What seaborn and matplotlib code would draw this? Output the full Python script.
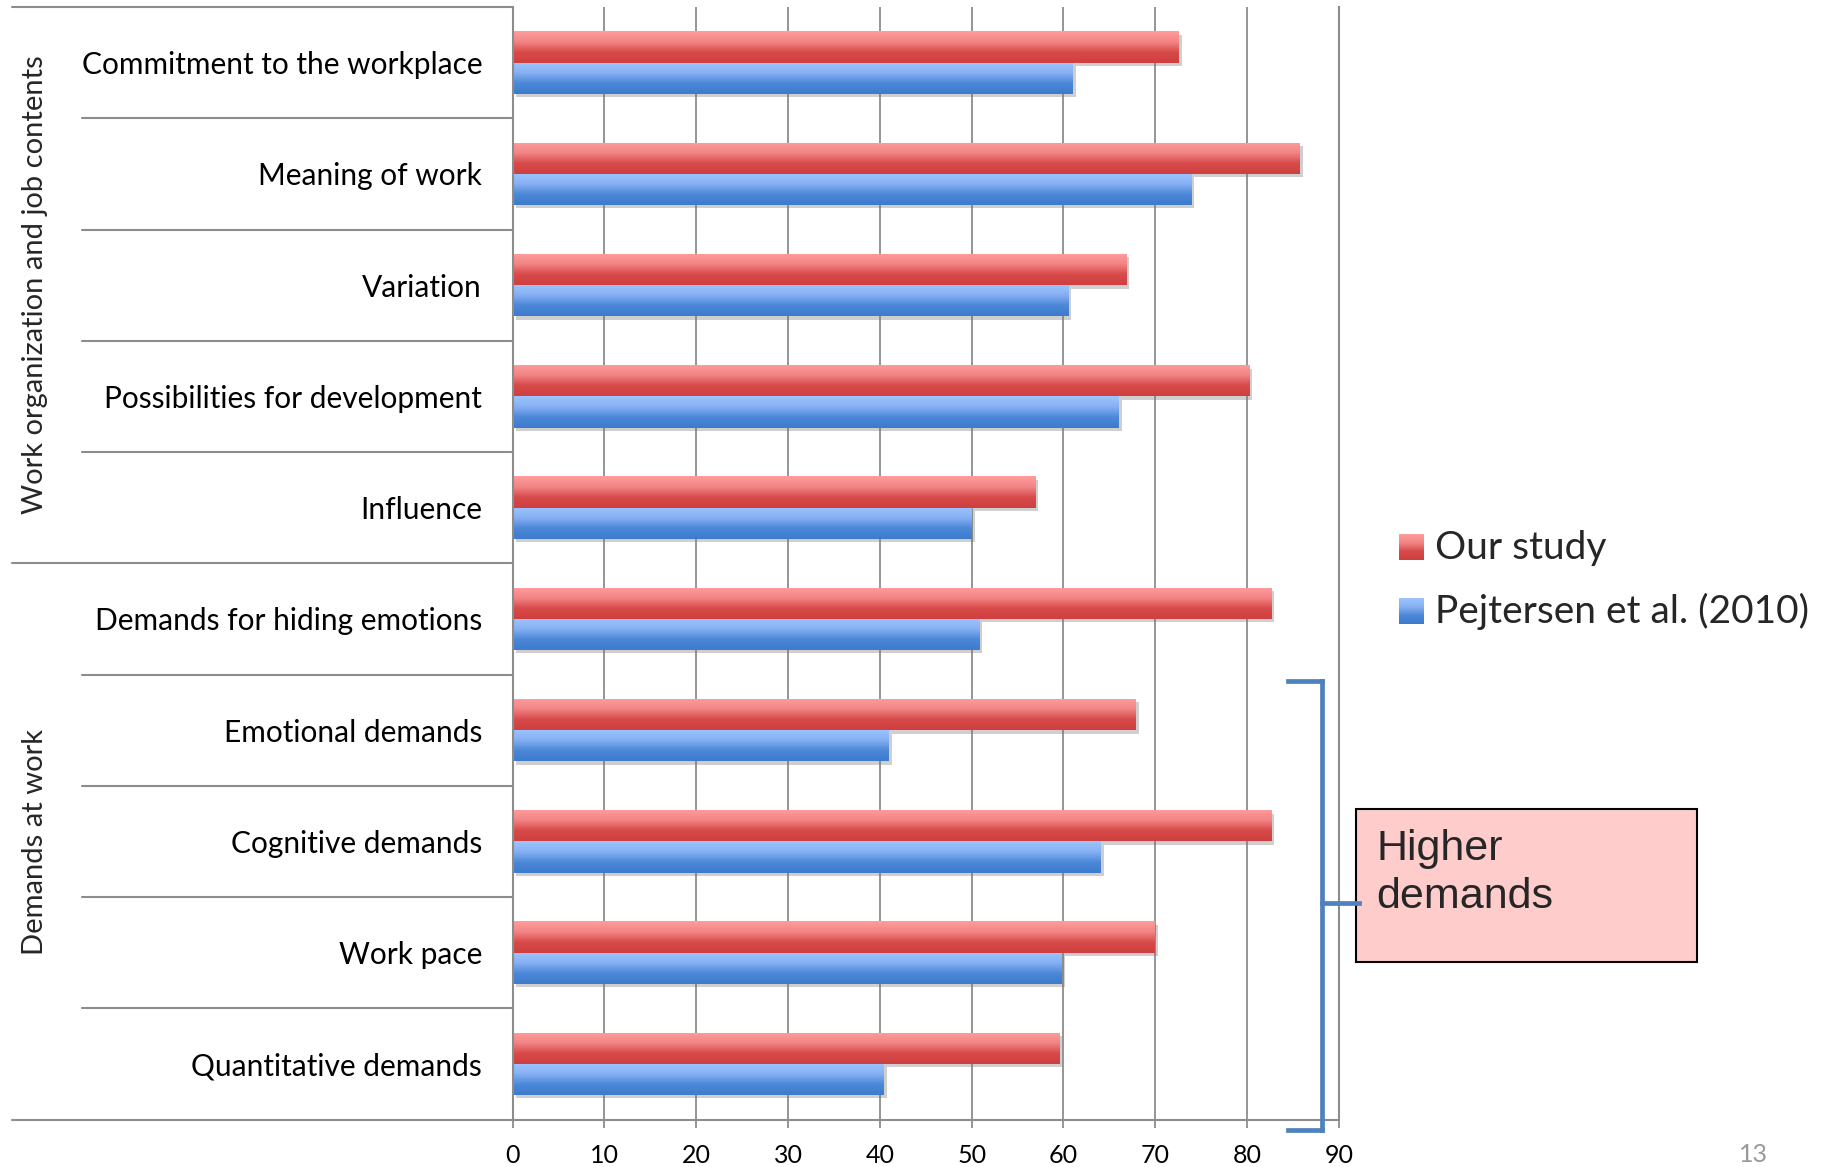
import numpy as np
import pandas as pd
import matplotlib
matplotlib.use("Agg")
import matplotlib.pyplot as plt
import seaborn as sns
from matplotlib.lines import Line2D
from matplotlib.patches import Rectangle
from matplotlib.colors import LinearSegmentedColormap
from matplotlib.legend_handler import HandlerBase
from matplotlib.image import BboxImage
from matplotlib.transforms import Bbox, TransformedBbox
import matplotlib.patheffects as pe

# ---------------- data ----------------
categories = [
    "Commitment to the workplace",
    "Meaning of work",
    "Variation",
    "Possibilities for development",
    "Influence",
    "Demands for hiding emotions",
    "Emotional demands",
    "Cognitive demands",
    "Work pace",
    "Quantitative demands",
]
our_study = [72.5, 85.7, 66.8, 80.2, 56.9, 82.6, 67.8, 82.6, 69.9, 59.5]
pejtersen = [61.0, 73.9, 60.5, 66.0, 50.0, 50.8, 40.9, 64.0, 59.8, 40.4]
series_names = ["Our study", "Pejtersen et al. (2010)"]
group_labels = ["Work organization and job contents", "Demands at work"]
x_ticks = [0, 10, 20, 30, 40, 50, 60, 70, 80, 90]
box_text = "Higher\ndemands"
page_number = "13"

df = pd.DataFrame({
    "category": categories * 2,
    "series": [series_names[0]] * len(categories) + [series_names[1]] * len(categories),
    "value": our_study + pejtersen,
})

# ---------------- style ----------------
sns.set_theme(style="white")
plt.rcParams["font.family"] = ["Lato", "DejaVu Sans"]

W, H = 1827, 1167
fig = plt.figure(figsize=(W / 100, H / 100), dpi=100)


def fx(x):
    return x / W


def fy(y):
    return 1 - y / H


ax_left, ax_right, ax_top, ax_bottom = 512.7, 1338.8, 7, 1119.5
ax = fig.add_axes([fx(ax_left), fy(ax_bottom), fx(ax_right - ax_left), (ax_bottom - ax_top) / H])

red_mid = "#E86A6A"
blue_mid = "#6A9DE6"
sns.barplot(data=df, y="category", x="value", hue="series", order=categories,
            hue_order=series_names, palette=[red_mid, blue_mid], width=0.56,
            orient="h", ax=ax, saturation=1, linewidth=0, legend=True)

ax.set_xlim(0, 90)
ax.set_ylim(len(categories) - 0.5, -0.5)
ax.set_xlabel("")
ax.set_ylabel("")

grid_c = "#8C8C8C"
ax.set_xticks(x_ticks)
ax.xaxis.grid(True, color=grid_c, linewidth=1.3)
ax.set_axisbelow(True)
for s in ["left", "bottom", "right"]:
    ax.spines[s].set_visible(True)
    ax.spines[s].set_color(grid_c)
    ax.spines[s].set_linewidth(1.5)
ax.spines["top"].set_visible(False)
ax.tick_params(axis="x", length=5.5, width=1.3, color=grid_c, labelsize=18, pad=12,
               labelcolor="black", bottom=True)
ax.tick_params(axis="y", length=0, labelsize=21.5, pad=22, labelcolor="black")

# gradient fill + shadow for bars
red_cmap = LinearSegmentedColormap.from_list("r", ["#FF9C9C", "#F28585", "#D84A4A", "#CF3F3F"])
blue_cmap = LinearSegmentedColormap.from_list("b", ["#9CC4FF", "#86B0F2", "#4C88D8", "#3E7BCC"])
grad = np.linspace(0, 1, 64).reshape(-1, 1)
n = len(categories)
bars = [p for p in ax.patches if isinstance(p, Rectangle) and p.get_height() > 0 and p.get_width() > 0]
for i, p in enumerate(bars):
    cmap = red_cmap if i < n else blue_cmap
    x0, y0 = p.get_x(), p.get_y()
    w, h = p.get_width(), p.get_height()
    p.set_path_effects([pe.SimplePatchShadow(offset=(2.5, -2.5), shadow_rgbFace="#777777", alpha=0.35),
                        pe.Normal()])
    im = ax.imshow(grad, cmap=cmap, aspect="auto", extent=(x0, x0 + w, y0 + h, y0),
                   origin="upper", zorder=p.get_zorder() + 0.1, interpolation="bilinear")
    im.set_clip_path(p)
ax.set_xlim(0, 90)
ax.set_ylim(len(categories) - 0.5, -0.5)

# separators on the left
line_c = "#8C8C8C"
x_cat = fx(81.6)
x_grp = fx(11.6)
for k in range(len(categories) + 1):
    yb = k - 0.5
    disp = ax.transData.transform((0, yb))
    yf = fig.transFigure.inverted().transform(disp)[1]
    xs = x_grp if k in (0, 5, len(categories)) else x_cat
    fig.add_artist(Line2D([xs, fx(ax_left)], [yf, yf], color=line_c, linewidth=1.5))

# group labels
fig.text(fx(35), fy(285), group_labels[0], rotation=90, ha="center", va="center", fontsize=21)
fig.text(fx(35), fy(842), group_labels[1], rotation=90, ha="center", va="center", fontsize=21)


# legend with gradient swatches
class GradientHandler(HandlerBase):
    def __init__(self, cmap):
        super().__init__()
        self.cmap = cmap

    def create_artists(self, legend, orig_handle, xdescent, ydescent, width, height, fontsize, trans):
        bb = Bbox.from_bounds(xdescent, ydescent, width, height)
        tbb = TransformedBbox(bb, trans)
        img = BboxImage(tbb, cmap=self.cmap, interpolation="bilinear", origin="upper")
        img.set_data(grad)
        return [img]


handles = [Rectangle((0, 0), 1, 1, facecolor=red_mid), Rectangle((0, 0), 1, 1, facecolor=blue_mid)]
ax.get_legend().remove()
fig.legend(handles, series_names, loc="center left", bbox_to_anchor=(fx(1399), fy(580)),
           bbox_transform=fig.transFigure, frameon=False, fontsize=28, borderpad=0,
           borderaxespad=0, handlelength=0.64, handleheight=0.64, handletextpad=0.28,
           labelspacing=0.68,
           handler_map={handles[0]: GradientHandler(red_cmap), handles[1]: GradientHandler(blue_cmap)})

# bracket annotation
br_c = "#4F81BD"
for xs, ys in [((1321.5, 1321.5), (681, 1130)), ((1287.5, 1321.5), (681, 681)),
               ((1287.5, 1321.5), (1130, 1130)), ((1321.5, 1359), (903, 903))]:
    fig.add_artist(Line2D([fx(xs[0]), fx(xs[1])], [fy(ys[0]), fy(ys[1])], color=br_c,
                          linewidth=3.4, solid_capstyle="projecting"))

# box
fig.add_artist(Rectangle((fx(1355.7), fy(961.5)), fx(1696.7 - 1355.7), (961.5 - 809) / H,
                         transform=fig.transFigure, facecolor="#FFCCCC", edgecolor="black",
                         linewidth=1.5))
fig.text(fx(1376), fy(829), box_text, ha="left", va="top", fontsize=31,
         family=["Liberation Sans", "DejaVu Sans"], linespacing=1.25)

# page number
fig.text(fx(1753), fy(1155), page_number, ha="center", va="center", fontsize=18, color="#999999")

fig.savefig("out.png", dpi=100)
